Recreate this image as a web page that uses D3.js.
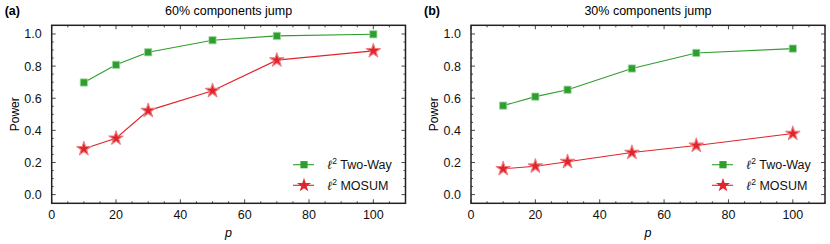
<!DOCTYPE html>
<html>
<head>
<meta charset="utf-8">
<script src="https://cdn.jsdelivr.net/npm/d3@7"></script>
<style>
  body { margin: 0; background: #fff; }
  text { font-family: "Liberation Sans", Arial, sans-serif; }
</style>
</head>
<body>
<div id="chart"></div>
<script>
var pValues = [10, 20, 30, 50, 70, 100];
var twoWay60 = [0.698, 0.808, 0.886, 0.961, 0.988, 0.998];
var mosum60 = [0.285, 0.351, 0.523, 0.647, 0.837, 0.895];
var twoWay30 = [0.554, 0.61, 0.653, 0.785, 0.882, 0.909];
var mosum30 = [0.161, 0.177, 0.205, 0.262, 0.306, 0.38];
var panelTitles = ["60% components jump", "30% components jump"];
var panelTags = ["(a)", "(b)"];
var yTicks = [0, 0.2, 0.4, 0.6, 0.8, 1.0];
var xTicks = [0, 20, 40, 60, 80, 100];

var green = "#2e9e2e";
var red = "#e0242b";

var svg = d3.select("#chart").append("svg")
    .attr("width", 830).attr("height", 244);

var panels = [
    {left: 51.7, right: 405.5, two: twoWay60, mo: mosum60, legX: 293},
    {left: 471, right: 825, two: twoWay30, mo: mosum30, legX: 712}
];

var plotTop = 25.3, plotBottom = 203.3;

panels.forEach(function(pn, k){
    var x = d3.scaleLinear().domain([0, 110]).range([pn.left, pn.right]);
    var y = d3.scaleLinear().domain([-0.054, 1.054]).range([plotBottom, plotTop]);
    var g = svg.append("g");

    // minor ticks inside frame
    var xMinor = d3.range(0, 111, 5);
    var yMinor = d3.range(0, 1.0001, 0.05);
    xMinor.forEach(function(v){
        var len = (v % 20 === 0) ? 4 : 2;
        [plotBottom, plotTop].forEach(function(b, j){
            g.append("line").attr("x1", x(v)).attr("x2", x(v))
                .attr("y1", b).attr("y2", j === 0 ? b - len : b + len)
                .attr("stroke", "#333").attr("stroke-width", 0.9);
        });
    });
    yMinor.forEach(function(v){
        var major = Math.abs(Math.round(v * 100) % 20) === 0;
        var len = major ? 4 : 2;
        [pn.left, pn.right].forEach(function(b, j){
            g.append("line").attr("y1", y(v)).attr("y2", y(v))
                .attr("x1", b).attr("x2", j === 0 ? b + len : b - len)
                .attr("stroke", "#333").attr("stroke-width", 0.9);
        });
    });

    // frame
    g.append("rect").attr("x", pn.left).attr("y", plotTop)
        .attr("width", pn.right - pn.left).attr("height", plotBottom - plotTop)
        .attr("fill", "none").attr("stroke", "#222").attr("stroke-width", 1.5);

    // tick labels
    g.selectAll(".xl").data(xTicks).enter().append("text")
        .attr("x", function(d){ return x(d); }).attr("y", 219)
        .attr("text-anchor", "middle").attr("font-size", 12.5).attr("fill", "#111")
        .text(function(d){ return d; });
    g.selectAll(".yl").data(yTicks).enter().append("text")
        .attr("x", pn.left - 10).attr("y", function(d){ return y(d) + 4.5; })
        .attr("text-anchor", "end").attr("font-size", 12.5).attr("fill", "#111")
        .text(function(d){ return d.toFixed(1); });

    // axis labels
    g.append("text").attr("x", (pn.left + pn.right) / 2).attr("y", 237)
        .attr("text-anchor", "middle").attr("font-size", 12.5).attr("font-style", "italic")
        .text("p");
    g.append("text").attr("transform", "translate(" + (pn.left - 33) + "," + ((plotTop + plotBottom) / 2) + ") rotate(-90)")
        .attr("text-anchor", "middle").attr("font-size", 12).text("Power");

    // title and tag
    g.append("text").attr("x", (pn.left + pn.right) / 2).attr("y", 15)
        .attr("text-anchor", "middle").attr("font-size", 12.5).text(panelTitles[k]);
    g.append("text").attr("x", pn.left - 47).attr("y", 15)
        .attr("font-size", 12.5).attr("font-weight", "bold").text(panelTags[k]);

    var line = d3.line()
        .x(function(d){ return x(d[0]); })
        .y(function(d){ return y(d[1]); });

    var sq = d3.symbol().type(d3.symbolSquare).size(52);
    var st = d3.symbol().type(d3.symbolStar).size(62);

    var twoPts = d3.zip(pValues, pn.two);
    var moPts = d3.zip(pValues, pn.mo);

    g.append("path").attr("d", line(twoPts)).attr("fill", "none")
        .attr("stroke", green).attr("stroke-width", 1.1);
    g.append("path").attr("d", line(moPts)).attr("fill", "none")
        .attr("stroke", red).attr("stroke-width", 1.1);

    g.selectAll(".sq").data(twoPts).enter().append("path")
        .attr("d", sq).attr("transform", function(d){ return "translate(" + x(d[0]) + "," + y(d[1]) + ")"; })
        .attr("fill", green).attr("stroke", "#9fd49f").attr("stroke-width", 0.8);
    g.selectAll(".st").data(moPts).enter().append("path")
        .attr("d", st).attr("transform", function(d){ return "translate(" + x(d[0]) + "," + y(d[1]) + ")"; })
        .attr("fill", red).attr("stroke", "#ee7a7e").attr("stroke-width", 1.1)
        .attr("stroke-linejoin", "round");

    // legend
    var rows = [
        {c: green, s: sq, name: " Two-Way", yy: 164.7},
        {c: red, s: st, name: " MOSUM", yy: 185.3}
    ];
    rows.forEach(function(r){
        g.append("line").attr("x1", pn.legX).attr("x2", pn.legX + 21)
            .attr("y1", r.yy).attr("y2", r.yy).attr("stroke", r.c).attr("stroke-width", 1.1);
        g.append("path").attr("d", r.s)
            .attr("transform", "translate(" + (pn.legX + 11) + "," + r.yy + ")")
            .attr("fill", r.c);
        var t = g.append("text").attr("x", pn.legX + 34).attr("y", r.yy + 4.5)
            .attr("font-size", 12.5).attr("fill", "#111");
        t.append("tspan").attr("font-style", "italic").attr("font-family", "DejaVu Serif").text("ℓ");
        t.append("tspan").attr("font-size", 8.5).attr("dy", -5).text("2");
        t.append("tspan").attr("dy", 5).text(r.name);
    });
});
</script>
</body>
</html>
